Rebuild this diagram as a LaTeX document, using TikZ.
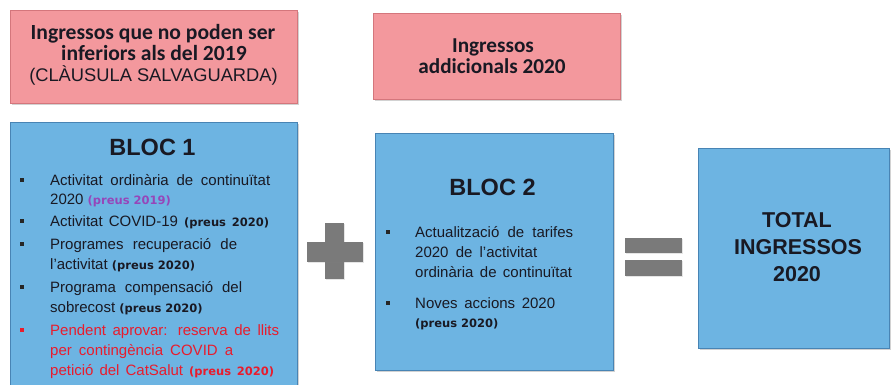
\documentclass[tikz,border=0pt]{standalone}
\usepackage{fontspec}
\setmainfont{Liberation Sans}
\newfontfamily\calib{Carlito}
\newfontfamily\dvs{DejaVu Sans}
\usetikzlibrary{shadows}
\definecolor{pinkfill}{RGB}{243,152,157}
\definecolor{pinkedge}{RGB}{212,118,124}
\definecolor{bluefill}{RGB}{109,180,226}
\definecolor{blueedge}{RGB}{72,132,180}
\definecolor{signgray}{RGB}{122,122,122}
\definecolor{txtred}{RGB}{232,28,45}
\definecolor{txtpurple}{RGB}{150,70,185}
\definecolor{txtdark}{RGB}{25,25,35}
\newcommand{\prs}[1]{{\dvs\bfseries\fontsize{11.5}{14}\selectfont #1}}
\begin{document}
\begin{tikzpicture}[x=1pt,y=-1pt,
  pinkbox/.style={rectangle, fill=pinkfill, draw=pinkedge, line width=0.8pt, inner sep=0,
    drop shadow={shadow xshift=1.5pt, shadow yshift=-2pt, opacity=0.35}},
  bluebox/.style={rectangle, fill=bluefill, draw=blueedge, line width=0.8pt, inner sep=0,
    drop shadow={shadow xshift=1.5pt, shadow yshift=-2pt, opacity=0.35}},
  signbar/.style={rectangle, fill=signgray, draw=none, inner sep=0,
    drop shadow={shadow xshift=1pt, shadow yshift=-1pt, opacity=0.2}},
  bul/.style={rectangle, fill=black!85, inner sep=0, minimum size=4pt},
  t/.style={inner sep=0, anchor=base west, text=txtdark, font=\fontsize{15}{20}\selectfont},
  tr/.style={t, text=txtred},
  head/.style={inner sep=0, anchor=base, text=txtdark, font=\bfseries\fontsize{23.5}{28}\selectfont},
  pinkt/.style={inner sep=0, anchor=base, text=txtdark, font=\calib\bfseries\fontsize{21.6}{25}\selectfont},
  totalt/.style={inner sep=0, anchor=base, text=txtdark, font=\bfseries\fontsize{21.5}{26}\selectfont}
]
\useasboundingbox[fill=white] (0,0) rectangle (891,385);

% pink header boxes
\node[pinkbox, minimum width=287pt, minimum height=93pt] (p1) at (153.5,56.5) {};
\node[pinkbox, minimum width=247pt, minimum height=86pt] (p2) at (496.5,56) {};
\node[pinkt] (p1a) at (153,40) {Ingressos que no poden ser};
\node[pinkt] (p1b) at (154,61) {inferiors als del 2019};
\node[inner sep=0, anchor=base, text=txtdark, font=\fontsize{18.3}{22}\selectfont] (p1c) at (153.5,82) {(CLÀUSULA SALVAGUARDA)};
\node[pinkt, font=\calib\bfseries\fontsize{21.2}{25}\selectfont] (p2a) at (493,53) {Ingressos};
\node[pinkt, font=\calib\bfseries\fontsize{21.2}{25}\selectfont] (p2b) at (492,74) {addicionals 2020};

% blue boxes
\node[bluebox, minimum width=287pt, minimum height=275pt] (b1) at (153.5,259.5) {};
\node[bluebox, minimum width=238pt, minimum height=237pt] (b2) at (494,251.5) {};
\node[bluebox, minimum width=191pt, minimum height=200pt] (b3) at (793.5,248) {};

% BLOC 1
\node[head] (h1) at (152.5,155) {BLOC 1};
\node[bul] (d11) at (22,180) {};
\node[t] (l11) at (50,185) {\makebox[220pt][s]{Activitat ordinària de continuïtat}};
\node[t] (l12) at (50,204) {2020 \textcolor{txtpurple}{\prs{(preus 2019)}}};
\node[bul] (d12) at (22,221) {};
\node[t] (l13) at (50,226) {\makebox[219pt][s]{Activitat COVID-19 \prs{(preus 2020)}}};
\node[bul] (d13) at (22,244) {};
\node[t] (l14) at (50,249) {\makebox[187pt][s]{Programes recuperació de}};
\node[t] (l15) at (50,269) {l'activitat \prs{(preus 2020)}};
\node[bul] (d14) at (22,287) {};
\node[t] (l16) at (50,292) {\makebox[192pt][s]{Programa compensació del}};
\node[t] (l17) at (50,312) {sobrecost \prs{(preus 2020)}};
\node[bul, fill=txtred] (d15) at (22,330) {};
\node[tr] (l18) at (50,335) {\makebox[229pt][s]{Pendent aprovar: reserva de llits}};
\node[tr] (l19) at (50,355) {\makebox[183pt][s]{per contingència COVID a}};
\node[tr] (l110) at (50,375) {\makebox[224pt][s]{petició del CatSalut \prs{(preus 2020)}}};

% BLOC 2
\node[head] (h2) at (492.5,195) {BLOC 2};
\node[bul] (d21) at (388,232) {};
\node[t] (l21) at (415,237) {\makebox[158pt][s]{Actualització de tarifes}};
\node[t] (l22) at (415,257) {\makebox[122pt][s]{2020 de l'activitat}};
\node[t] (l23) at (415,277) {\makebox[157pt][s]{ordinària de continuïtat}};
\node[bul] (d22) at (388,303) {};
\node[t] (l24) at (415,308) {\makebox[140pt][s]{Noves accions 2020}};
\node[t] (l25) at (415,327) {\prs{(preus 2020)}};

% TOTAL
\node[totalt] (t1) at (797,227) {TOTAL};
\node[totalt] (t2) at (798,254) {INGRESSOS};
\node[totalt] (t3) at (797,281) {2020};

% plus sign
\node[signbar, minimum width=19pt, minimum height=56pt] (plusv) at (334.5,251) {};
\node[signbar, minimum width=56pt, minimum height=20pt] (plush) at (335,252) {};
% equals sign
\node[signbar, minimum width=57pt, minimum height=15pt] (eq1) at (653.5,245.5) {};
\node[signbar, minimum width=57pt, minimum height=16pt] (eq2) at (653.5,268) {};
\end{tikzpicture}
\end{document}
